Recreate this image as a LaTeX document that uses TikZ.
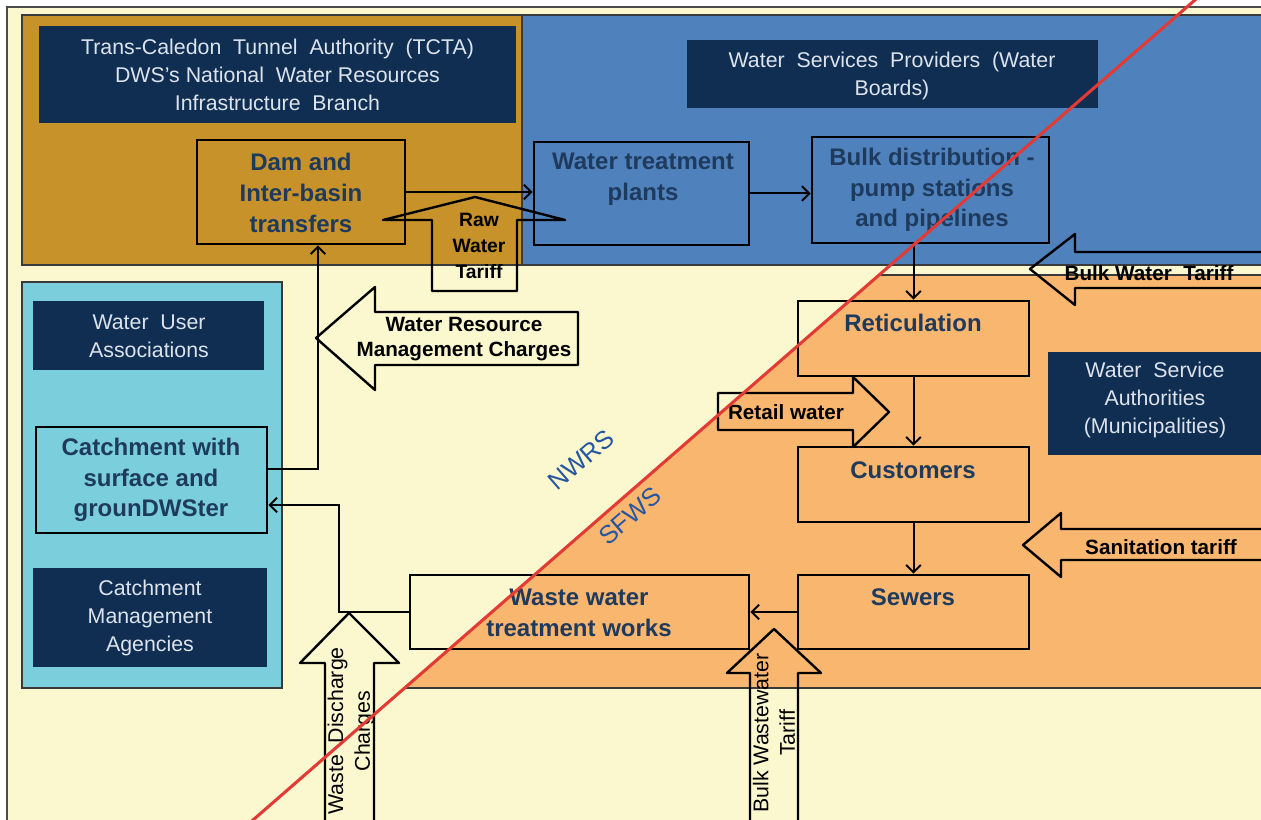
\documentclass[tikz,border=0pt]{standalone}
\usepackage{fontspec}
\setmainfont{Liberation Sans}
\usetikzlibrary{arrows.meta,fit}
\definecolor{bgyel}{HTML}{FBF7CE}
\definecolor{goldr}{HTML}{C8922A}
\definecolor{wblue}{HTML}{4F81BD}
\definecolor{navy}{HTML}{102E52}
\definecolor{cyanr}{HTML}{7BCFDC}
\definecolor{orng}{HTML}{F9B66F}
\definecolor{boxtxt}{HTML}{1E3A5C}
\definecolor{navytxt}{HTML}{DCE3EC}
\definecolor{redl}{HTML}{E23B35}
\definecolor{labblue}{HTML}{2556A0}
\definecolor{regline}{HTML}{3A3A3A}
\tikzset{
  regionline/.style={draw=regline, line width=0.9pt},
  mainbox/.style={draw=black, line width=2pt, inner sep=0pt},
  boxtext/.style={inner sep=0pt, align=center, text=boxtxt, font=\fontsize{18}{23}\selectfont\bfseries},
  navybox/.style={fill=navy, inner sep=0pt},
  navytext/.style={inner sep=0pt, align=center, text=navytxt, font=\fontsize{16}{21}\selectfont},
  conn/.style={line width=1.5pt, -{Straight Barb[length=5.5pt,width=11pt]}},
  blockarrow/.style={draw=black, line width=1.8pt, line join=round},
  arrowlab/.style={inner sep=0pt, align=center, text=black, font=\fontsize{15.5}{19}\selectfont\bfseries},
  vertlab/.style={inner sep=0pt, align=center, text=black, rotate=90, font=\fontsize{16}{20}\selectfont},
  divlab/.style={inner sep=0pt, text=labblue, rotate=41, font=\fontsize{19}{22}\selectfont}
}
\begin{document}
\begin{tikzpicture}[x=0.75pt,y=-0.75pt]
\clip (0,0) rectangle (1261,820);
\fill[white] (0,0) rectangle (1261,820);
% background regions
\draw[draw=gray!60!black, line width=1pt, fill=bgyel] (7,7) rectangle (1290,840);
\draw[regionline, fill=goldr] (22,15) rectangle (522,265);
\draw[regionline, fill=wblue] (522,15) rectangle (1290,265);
\draw[regionline, fill=cyanr] (22,282) rectangle (282,688);
\fill[orng] (878.4,275) -- (1290,275) -- (1290,688) -- (402.8,688) -- cycle;
\draw[regionline] (878.4,275) -- (1290,275);
\draw[regionline] (402.8,688) -- (1290,688);

% navy organisation boxes
\node[navybox, fit={(39,26) (516,123)}] (tcta) {};
\node[navytext] (tctaT) at (277.5,75) {Trans-Caledon \ Tunnel \ Authority \ (TCTA)\\DWS’s National \ Water Resources\\Infrastructure \ Branch};
\node[navybox, fit={(687,40) (1098,108)}] (wsp) {};
\node[navytext] (wspT) at (892,75.5) {Water \ Services \ Providers \ (Water\\Boards)};
\node[navybox, fit={(33,301) (264,370)}] (wua) {};
\node[navytext] (wuaT) at (149,336.5) {Water \ User\\Associations};
\node[navybox, fit={(33,568) (267,667)}] (cma) {};
\node[navytext] (cmaT) at (150,618) {Catchment\\Management\\Agencies};
\node[navybox, fit={(1048,352) (1290,455)}] (wsa) {};
\node[navytext] (wsaT) at (1155,400) {Water \ Service\\Authorities\\(Municipalities)};

% main process boxes
\node[mainbox, fit={(197,140) (405,244)}] (dam) {};
\node[boxtext] (damT) at (301,193) {Dam and\\Inter-basin\\transfers};
\node[mainbox, fit={(534,142) (749,245)}] (wtp) {};
\node[boxtext] (wtpT) at (643,179) {Water treatment\\plants};
\node[mainbox, fit={(812,137) (1049,243)}] (bulk) {};
\node[boxtext] (bulkT) at (932,190) {Bulk distribution -\\pump stations\\and pipelines};
\node[mainbox, fit={(798,301) (1029,376)}] (ret) {};
\node[boxtext] (retT) at (913,323) {Reticulation};
\node[mainbox, fit={(798,447) (1029,522)}] (cust) {};
\node[boxtext] (custT) at (913,470) {Customers};
\node[mainbox, fit={(798,575) (1029,649)}] (sew) {};
\node[boxtext] (sewT) at (913,597) {Sewers};
\node[mainbox, fit={(410,575) (749,649)}] (wwtw) {};
\node[boxtext] (wwtwT) at (579,613) {Waste water\\treatment works};
\node[mainbox, fit={(36,427) (267,533)}] (catch) {};
\node[boxtext] (catchT) at (151,480) {Catchment with\\surface and\\grounDWSter};

% connectors
\draw[conn] (dam.east) -- (dam.east -| wtp.west);
\draw[conn] (wtp.east) -- (wtp.east -| bulk.west);
\draw[conn] (ret.north |- bulk.south) -- (ret.north);
\draw[conn] (ret.south) -- (cust.north);
\draw[conn] (cust.south) -- (sew.north);
\draw[conn] (sew.west) -- (sew.west -| wwtw.east);
\coordinate (wdc) at (339,612);
\draw[conn] (wwtw.west) -- (wdc) |- ([yshift=-18.75pt]catch.east);
\draw[conn] ([yshift=8.25pt]catch.east) -| ([xshift=12.75pt]dam.south);

% block arrows
\draw[blockarrow] (432,291) -- (432,220) -- (383,220) -- (475,197) -- (565,220) -- (517,220) -- (517,291) -- cycle;
\node[arrowlab, font=\fontsize{14.5}{19.5}\selectfont\bfseries] (rwt) at (479,246) {Raw\\Water\\Tariff};
\draw[blockarrow] (578,312) -- (375,312) -- (375,287) -- (316,338) -- (375,390) -- (375,365) -- (578,365) -- cycle;
\node[arrowlab] (wrmc) at (464,339) {Water Resource\\Management Charges};
\draw[blockarrow] (1290,252) -- (1075,252) -- (1075,234) -- (1030,269) -- (1075,305) -- (1075,288) -- (1290,288);
\node[arrowlab] (bwt) at (1149,273) {Bulk Water \ Tariff};
\draw[blockarrow] (718,393) -- (853,393) -- (853,377) -- (889,412) -- (853,447) -- (853,430) -- (718,430) -- cycle;
\node[arrowlab] (rw) at (786,412) {Retail water};
\draw[blockarrow] (1290,529) -- (1061,529) -- (1061,513) -- (1023,545) -- (1061,577) -- (1061,560) -- (1290,560);
\node[arrowlab] (st) at (1161,547) {Sanitation tariff};
\draw[blockarrow] (325,830) -- (325,663) -- (300,663) -- (349,613) -- (399,663) -- (374,663) -- (374,830);
\node[vertlab] (wdcl) at (351,731) {Waste \ Discharge\\Charges};
\draw[blockarrow] (750,830) -- (750,673) -- (727,673) -- (774,629) -- (821,673) -- (798,673) -- (798,830);
\node[vertlab] (bwwt) at (774,733) {Bulk Wastewater\\Tariff};

% dividing line and labels
\node[divlab] (nwrs) at (581,460) {NWRS};
\node[divlab] (sfws) at (630,516) {SFWS};
\coordinate (rlA) at (1206.5,-10);
\coordinate (rlB) at (241.5,830);
\draw[redl, line width=2.3pt] (rlA) -- (rlB);
\end{tikzpicture}
\end{document}
